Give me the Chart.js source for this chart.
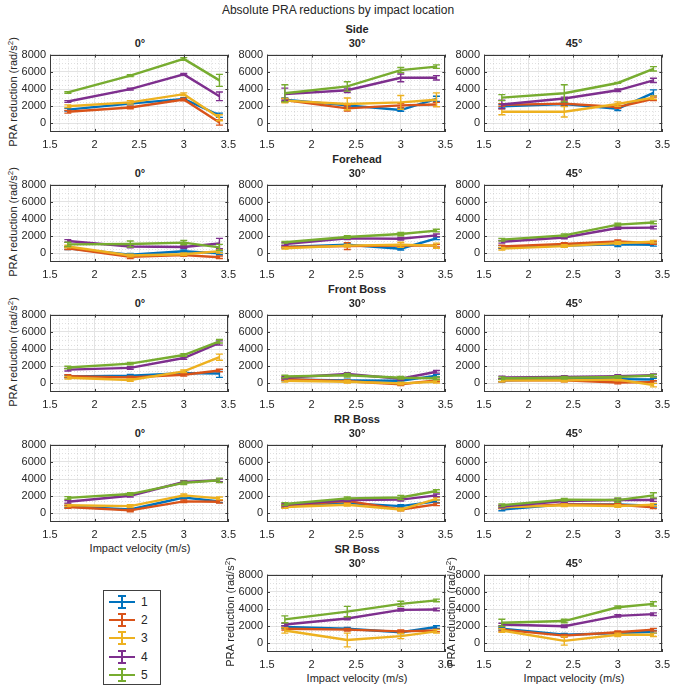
<!DOCTYPE html>
<html>
<head>
<meta charset="utf-8">
<script src="https://cdn.jsdelivr.net/npm/chart.js"></script>
<style>
    body { margin: 0; background: #fff; font-family: "Liberation Sans", Arial, sans-serif; color: #262626; }
    #page { position: relative; width: 676px; height: 687px; overflow: hidden; }
    .panel { position: absolute; }
    .txt { position: absolute; white-space: nowrap; transform: translateX(-50%); font-size: 11px; line-height: 14px; }
    .bold { font-weight: bold; }
    .ylab { position: absolute; white-space: nowrap; font-size: 11px; line-height: 14px; transform: translate(-50%, -50%) rotate(-90deg); }
    #legend { position: absolute; left: 103px; top: 590px; width: 56px; height: 93px; border: 1px solid #404040; background: #fff; }
    .lrow { position: absolute; left: 0; width: 56px; height: 16px; }
    .lrow .ln { position: absolute; left: 5px; width: 26px; height: 2px; top: 7px; }
    .lrow .vb { position: absolute; left: 17px; width: 2px; height: 14px; top: 1px; }
    .lrow .cp { position: absolute; left: 14px; width: 8px; height: 2px; }
    .lrow .lt { position: absolute; left: 37px; top: 0; font-size: 12px; line-height: 16px; }
</style>
</head>
<body>
<div id="page"></div>
<script>
// velocities and axis ticks
const velocities = [1.7, 2.4, 3.0, 3.4];
const seriesNames = ['1', '2', '3', '4', '5'];
const xTicks = [1.5, 2, 2.5, 3, 3.5];
const yTicks = [0, 2000, 4000, 6000, 8000];
const locations = ['Side', 'Forehead', 'Front Boss', 'RR Boss', 'SR Boss'];
const angles = ['0°', '30°', '45°'];

// series 1..5 values (rad/s^2) per panel, and error bar half-lengths
const side0 = [[1600, 2300, 2850, 950], [1350, 1850, 2780, 100], [2000, 2450, 3400, 650], [2550, 3980, 5700, 3150], [3600, 5550, 7500, 5000]];
const side0Err = [[150, 150, 150, 250], [150, 150, 150, 300], [150, 200, 150, 350], [100, 100, 100, 500], [100, 100, 150, 700]];
const side30 = [[2750, 2100, 1550, 2850], [2700, 1750, 2100, 2200], [2650, 2250, 2450, 2750], [3400, 3850, 5300, 5300], [3500, 4300, 6200, 6600]];
const side30Err = [[200, 200, 150, 300], [200, 300, 250, 250], [250, 700, 800, 800], [700, 250, 450, 250], [1000, 550, 300, 200]];
const side45 = [[2000, 2250, 1700, 3550], [2150, 2300, 1900, 2850], [1350, 1350, 2250, 3000], [2200, 2900, 3850, 5000], [3000, 3500, 4700, 6350]];
const side45Err = [[200, 150, 200, 350], [150, 300, 150, 200], [350, 600, 250, 200], [500, 150, 150, 250], [350, 1000, 50, 250]];

const fore0 = [[600, -150, 250, 0], [600, -400, -200, -450], [800, -250, -100, 250], [1450, 800, 750, 1150], [1050, 1100, 1250, 700]];
const fore0Err = [[150, 150, 150, 150], [150, 200, 150, 150], [150, 150, 150, 200], [150, 150, 150, 600], [250, 350, 250, 350]];
const fore30 = [[750, 1000, 550, 1750], [750, 850, 900, 900], [600, 900, 1000, 900], [1100, 1750, 1700, 2100], [1300, 1900, 2250, 2650]];
const fore30Err = [[100, 150, 150, 150], [100, 400, 150, 150], [100, 150, 300, 300], [150, 150, 150, 150], [100, 150, 200, 150]];
const fore45 = [[750, 900, 1050, 1000], [800, 1100, 1400, 1200], [550, 850, 1200, 1350], [1350, 1850, 2950, 3000], [1600, 2100, 3350, 3600]];
const fore45Err = [[150, 150, 250, 150], [150, 150, 150, 150], [150, 150, 150, 150], [150, 150, 150, 150], [150, 150, 150, 150]];

const fb0 = [[800, 900, 1200, 1150], [850, 700, 1000, 1500], [650, 400, 1400, 3050], [1600, 1800, 2950, 4700], [1850, 2300, 3300, 4900]];
const fb0Err = [[150, 150, 150, 450], [150, 150, 150, 150], [150, 150, 150, 350], [150, 150, 150, 250], [150, 150, 150, 200]];
const fb30 = [[450, 350, 300, 900], [500, 250, -100, 350], [300, 200, 0, 200], [650, 1100, 550, 1350], [800, 950, 650, 600]];
const fb30Err = [[150, 150, 150, 150], [150, 150, 150, 150], [150, 150, 150, 150], [150, 150, 150, 150], [150, 200, 150, 150]];
const fb45 = [[350, 500, 500, 450], [350, 350, 100, 150], [350, 350, 450, -200], [700, 750, 850, 950], [600, 650, 750, 900]];
const fb45Err = [[150, 150, 150, 150], [150, 150, 150, 150], [150, 150, 150, 200], [150, 150, 150, 150], [150, 150, 150, 150]];

const rr0 = [[800, 450, 1850, 1400], [750, 350, 1400, 1350], [950, 850, 2100, 1750], [1350, 2050, 3650, 3850], [1800, 2250, 3550, 3850]];
const rr0Err = [[150, 150, 150, 150], [150, 150, 150, 150], [150, 150, 150, 150], [150, 150, 150, 150], [150, 150, 200, 250]];
const rr30 = [[800, 1200, 850, 1400], [900, 1450, 450, 1050], [750, 1000, 450, 1700], [1000, 1550, 1600, 2100], [1100, 1750, 1850, 2600]];
const rr30Err = [[150, 150, 150, 150], [150, 150, 150, 150], [150, 150, 150, 150], [150, 150, 150, 150], [150, 150, 250, 150]];
const rr45 = [[450, 1050, 1050, 900], [700, 1050, 1000, 700], [700, 950, 850, 1000], [800, 1450, 1550, 1550], [950, 1600, 1550, 2100]];
const rr45Err = [[150, 150, 150, 150], [150, 150, 150, 150], [150, 150, 150, 150], [150, 150, 150, 150], [150, 150, 250, 300]];

const sr30 = [[1900, 1700, 1300, 1900], [1700, 1600, 1400, 1500], [1500, 400, 850, 1400], [2200, 2900, 3900, 3950], [2800, 3700, 4600, 5000]];
const sr30Err = [[150, 150, 150, 150], [150, 150, 150, 150], [300, 800, 300, 200], [150, 150, 150, 150], [400, 600, 300, 150]];
const sr45 = [[1700, 1000, 1200, 1350], [1600, 900, 1300, 1600], [1500, 300, 1000, 1000], [2200, 2000, 3200, 3400], [2400, 2600, 4200, 4600]];
const sr45Err = [[150, 150, 150, 150], [150, 150, 150, 150], [200, 500, 200, 200], [150, 150, 150, 150], [400, 200, 150, 250]];

const colors = ['#0072BD', '#D95319', '#EDB120', '#7E2F8E', '#77AC30'];

// panel grid geometry (plot area)
const colLeft = [50, 267, 484];
const rowTop = [52, 182, 312, 442, 572];
const plotW = 180, plotH = 80;

const panels = [
    { row: 0, col: 0, data: side0, err: side0Err, ylab: true },
    { row: 0, col: 1, data: side30, err: side30Err },
    { row: 0, col: 2, data: side45, err: side45Err },
    { row: 1, col: 0, data: fore0, err: fore0Err, ylab: true },
    { row: 1, col: 1, data: fore30, err: fore30Err },
    { row: 1, col: 2, data: fore45, err: fore45Err },
    { row: 2, col: 0, data: fb0, err: fb0Err, ylab: true },
    { row: 2, col: 1, data: fb30, err: fb30Err },
    { row: 2, col: 2, data: fb45, err: fb45Err },
    { row: 3, col: 0, data: rr0, err: rr0Err, xlab: true },
    { row: 3, col: 1, data: rr30, err: rr30Err },
    { row: 3, col: 2, data: rr45, err: rr45Err },
    { row: 4, col: 1, data: sr30, err: sr30Err, ylab: true, xlab: true },
    { row: 4, col: 2, data: sr45, err: sr45Err, ylab: true, xlab: true }
];
const angleIdx = [0, 1, 2, 0, 1, 2, 0, 1, 2, 0, 1, 2, 1, 2];

// minor dotted grid, box and inward ticks, like matlab axes
const axesFrame = {
    id: 'axesFrame',
    beforeDatasetsDraw(chart) {
        const { ctx, chartArea: a, scales: { x, y } } = chart;
        ctx.save();
        ctx.strokeStyle = 'rgba(38,38,38,0.14)';
        ctx.lineWidth = 1;
        ctx.setLineDash([1, 2]);
        ctx.beginPath();
        for (let k = 16; k < 35; k++) {
            if (k % 5 === 0) continue;
            const px = Math.round(x.getPixelForValue(k / 10)) + 0.5;
            ctx.moveTo(px, a.top); ctx.lineTo(px, a.bottom);
        }
        for (let k = -1; k < 16; k++) {
            if (k % 4 === 0) continue;
            const py = Math.round(y.getPixelForValue(k * 500)) + 0.5;
            ctx.moveTo(a.left, py); ctx.lineTo(a.right, py);
        }
        ctx.stroke();
        ctx.restore();
    },
    afterDatasetDraw(chart, args) {
        const { ctx, scales: { x, y } } = chart;
        const ds = chart.data.datasets[args.index];
        ctx.save();
        ctx.strokeStyle = ds.borderColor;
        ctx.lineWidth = 1.4;
        ctx.beginPath();
        ds.data.forEach((p, i) => {
            const px = x.getPixelForValue(p.x);
            const top = y.getPixelForValue(p.y + ds.errs[i]);
            const bot = y.getPixelForValue(p.y - ds.errs[i]);
            ctx.moveTo(px, top); ctx.lineTo(px, bot);
            ctx.moveTo(px - 3.5, top); ctx.lineTo(px + 3.5, top);
            ctx.moveTo(px - 3.5, bot); ctx.lineTo(px + 3.5, bot);
        });
        ctx.stroke();
        ctx.restore();
    },
    afterDraw(chart) {
        const { ctx, chartArea: a, scales: { x, y } } = chart;
        ctx.save();
        ctx.strokeStyle = '#3a3a3a';
        ctx.lineWidth = 1;
        ctx.strokeRect(Math.round(a.left) + 0.5, Math.round(a.top) + 0.5, Math.round(a.width) - 1, Math.round(a.height) - 1);
        ctx.beginPath();
        xTicks.forEach(v => {
            const px = Math.round(x.getPixelForValue(v)) + 0.5;
            ctx.moveTo(px, a.bottom); ctx.lineTo(px, a.bottom - 3);
            ctx.moveTo(px, a.top); ctx.lineTo(px, a.top + 3);
        });
        yTicks.forEach(v => {
            const py = Math.round(y.getPixelForValue(v)) + 0.5;
            ctx.moveTo(a.left, py); ctx.lineTo(a.left + 3, py);
            ctx.moveTo(a.right, py); ctx.lineTo(a.right - 3, py);
        });
        ctx.stroke();
        ctx.restore();
    }
};

const page = document.getElementById('page');

function addText(cls, text, left, top) {
    const d = document.createElement('div');
    d.className = cls;
    d.textContent = text;
    d.style.left = left + 'px';
    d.style.top = top + 'px';
    page.appendChild(d);
    return d;
}

addText('txt', 'Absolute PRA reductions by impact location', 338, 3).style.fontSize = '12px';

locations.forEach((name, r) => {
    addText('txt bold', name, colLeft[1] + plotW / 2, rowTop[r] - 30);
});

panels.forEach((p, n) => {
    const L = colLeft[p.col], T = rowTop[p.row];
    addText('txt bold', angles[angleIdx[n]], L + plotW / 2, T - 16);
    if (p.ylab) {
        const d = document.createElement('div');
        d.className = 'ylab';
        d.innerHTML = 'PRA reduction (rad/s<sup style="font-size:8px">2</sup>)';
        d.style.left = (L - (p.col === 2 ? 34 : 38)) + 'px';
        d.style.top = (T + plotH / 2) + 'px';
        page.appendChild(d);
    }
    if (p.xlab) addText('txt', 'Impact velocity (m/s)', L + plotW / 2, T + plotH + 19);

    const box = document.createElement('div');
    box.className = 'panel';
    box.style.left = (L - 40) + 'px';
    box.style.top = (T - 8) + 'px';
    const canvas = document.createElement('canvas');
    canvas.width = plotW + 52;
    canvas.height = plotH + 28;
    box.appendChild(canvas);
    page.appendChild(box);

    new Chart(canvas, {
        type: 'line',
        data: {
            datasets: p.data.map((vals, i) => ({
                label: seriesNames[i],
                data: vals.map((v, k) => ({ x: velocities[k], y: v })),
                errs: p.err[i],
                borderColor: colors[i],
                backgroundColor: colors[i],
                borderWidth: 2.4,
                pointRadius: 0,
                tension: 0,
                order: 10 - i
            }))
        },
        options: {
            responsive: false,
            animation: false,
            events: [],
            layout: { padding: { top: 8, right: 12, left: 0, bottom: 0 } },
            plugins: { legend: { display: false }, tooltip: { enabled: false } },
            scales: {
                x: {
                    type: 'linear', min: 1.5, max: 3.5,
                    afterBuildTicks: s => { s.ticks = xTicks.map(v => ({ value: v })); },
                    afterFit: s => { s.height = 20; },
                    grid: { color: '#e3e3e3', drawTicks: false },
                    border: { display: false },
                    ticks: { padding: 6, color: '#262626', font: { family: 'Liberation Sans', size: 11 }, callback: v => String(v), maxRotation: 0 }
                },
                y: {
                    min: -1000, max: 8000,
                    afterBuildTicks: s => { s.ticks = yTicks.map(v => ({ value: v })); },
                    afterFit: s => { s.width = 40; },
                    grid: { color: '#e3e3e3', drawTicks: false },
                    border: { display: false },
                    ticks: { padding: 4, color: '#262626', font: { family: 'Liberation Sans', size: 11 }, callback: v => String(v) }
                }
            }
        },
        plugins: [axesFrame]
    });
});

// legend box
const legend = document.createElement('div');
legend.id = 'legend';
seriesNames.forEach((name, i) => {
    const row = document.createElement('div');
    row.className = 'lrow';
    row.style.top = (3 + i * 18.2) + 'px';
    row.innerHTML = '<span class="ln"></span><span class="vb"></span><span class="cp" style="top:1px"></span><span class="cp" style="top:13px"></span><span class="lt"></span>';
    row.querySelectorAll('.ln,.vb,.cp').forEach(e => { e.style.background = colors[i]; });
    row.querySelector('.lt').textContent = name;
    legend.appendChild(row);
});
page.appendChild(legend);
</script>
</body>
</html>
